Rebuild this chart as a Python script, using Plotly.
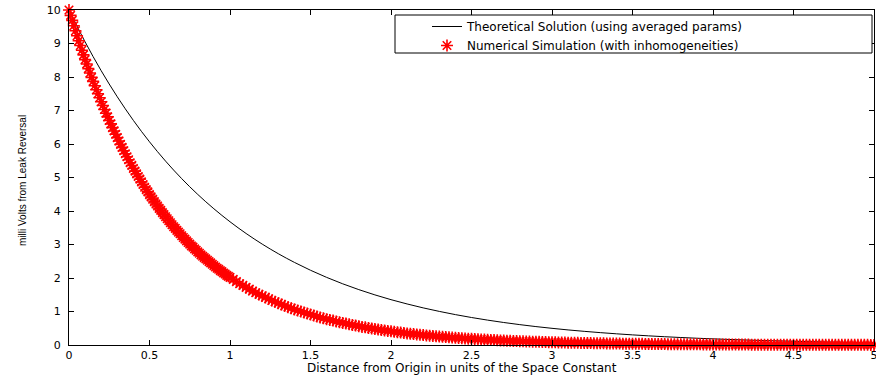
import plotly.graph_objects as go

# ---- data ----
theory_x = [round(0.1 * k, 1) for k in range(51)]
theory_y = [10.00, 9.048, 8.187, 7.408, 6.703, 6.065, 5.488, 4.966, 4.493, 4.066,
            3.679, 3.329, 3.012, 2.725, 2.466, 2.231, 2.019, 1.827, 1.653, 1.496,
            1.353, 1.225, 1.108, 1.003, 0.907, 0.821, 0.743, 0.672, 0.608, 0.550,
            0.498, 0.450, 0.408, 0.369, 0.334, 0.302, 0.273, 0.247, 0.224, 0.202,
            0.183, 0.166, 0.150, 0.136, 0.123, 0.111, 0.101, 0.091, 0.082, 0.074,
            0.067]

sim_x = ([round(0.01 * k, 2) for k in range(101)]
         + [round(1.0 + 0.02 * k, 2) for k in range(1, 201)])
sim_y = [10.00, 9.84, 9.69, 9.53, 9.38, 9.23, 9.08, 8.94, 8.80, 8.66,
         8.52, 8.39, 8.25, 8.12, 7.99, 7.87, 7.74, 7.62, 7.50, 7.38,
         7.26, 7.15, 7.03, 6.92, 6.81, 6.70, 6.60, 6.49, 6.39, 6.29,
         6.19, 6.09, 5.99, 5.90, 5.80, 5.71, 5.62, 5.53, 5.44, 5.36,
         5.27, 5.19, 5.11, 5.03, 4.95, 4.87, 4.79, 4.71, 4.64, 4.57,
         4.49, 4.42, 4.35, 4.28, 4.21, 4.15, 4.08, 4.02, 3.95, 3.89,
         3.83, 3.77, 3.71, 3.65, 3.59, 3.53, 3.48, 3.42, 3.37, 3.32,
         3.26, 3.21, 3.16, 3.11, 3.06, 3.01, 2.96, 2.92, 2.87, 2.83,
         2.78, 2.74, 2.69, 2.65, 2.61, 2.57, 2.53, 2.49, 2.45, 2.41,
         2.37, 2.33, 2.29, 2.26, 2.22, 2.19, 2.15, 2.12, 2.08, 2.05,
         2.02,
         1.96, 1.89, 1.83, 1.78, 1.72, 1.67, 1.61, 1.56, 1.51, 1.47,
         1.42, 1.38, 1.33, 1.29, 1.25, 1.21, 1.17, 1.13, 1.10, 1.06,
         1.03, 1.00, 0.97, 0.94, 0.91, 0.88, 0.85, 0.82, 0.80, 0.77,
         0.75, 0.73, 0.70, 0.68, 0.66, 0.64, 0.62, 0.60, 0.58, 0.56,
         0.54, 0.53, 0.51, 0.49, 0.48, 0.46, 0.45, 0.43, 0.42, 0.41,
         0.395, 0.382, 0.370, 0.359, 0.347, 0.336, 0.326, 0.316, 0.306, 0.296,
         0.287, 0.278, 0.269, 0.260, 0.252, 0.244, 0.237, 0.229, 0.222, 0.215,
         0.208, 0.202, 0.195, 0.189, 0.183, 0.177, 0.172, 0.166, 0.161, 0.156,
         0.151, 0.146, 0.142, 0.137, 0.133, 0.129, 0.125, 0.121, 0.117, 0.113,
         0.110, 0.106, 0.103, 0.100, 0.097, 0.094, 0.091, 0.088, 0.085, 0.082,
         0.080, 0.077, 0.075, 0.072, 0.070, 0.068, 0.066, 0.064, 0.062, 0.060,
         0.058, 0.056, 0.054, 0.053, 0.051, 0.049, 0.048, 0.046, 0.045, 0.043,
         0.042, 0.041, 0.039, 0.038, 0.037, 0.036, 0.035, 0.034, 0.033, 0.032,
         0.031, 0.030, 0.029, 0.028, 0.027, 0.026, 0.025, 0.024, 0.024, 0.023,
         0.022, 0.021, 0.021, 0.020, 0.020, 0.019, 0.018, 0.018, 0.017, 0.017,
         0.016, 0.016, 0.015, 0.015, 0.014, 0.014, 0.013, 0.013, 0.012, 0.012,
         0.012, 0.011, 0.011, 0.011, 0.010, 0.010, 0.010, 0.009, 0.009, 0.009,
         0.008, 0.008, 0.008, 0.008, 0.007, 0.007, 0.007, 0.007, 0.007, 0.006,
         0.006, 0.006, 0.006, 0.006, 0.005, 0.005, 0.005, 0.005, 0.005, 0.005,
         0.004, 0.004, 0.004, 0.004, 0.004, 0.004, 0.004, 0.004, 0.003, 0.003]

x_ticks = [0, 0.5, 1, 1.5, 2, 2.5, 3, 3.5, 4, 4.5, 5]
x_tick_labels = ["0", "0.5", "1", "1.5", "2", "2.5", "3", "3.5", "4", "4.5", "5"]
y_ticks = list(range(0, 11))
y_tick_labels = [str(v) for v in y_ticks]

names = ["Theoretical Solution (using averaged params)",
         "Numerical Simulation (with inhomogeneities)"]
x_title = "Distance from Origin in units of the Space Constant"
y_title = "milli Volts from Leak Reversal"

# ---- figure ----
fig = go.Figure()
fig.add_trace(go.Scatter(
    x=theory_x, y=theory_y, mode="lines", name=names[0],
    line=dict(color="black", width=1, shape="spline"), cliponaxis=False))
fig.add_trace(go.Scatter(
    x=sim_x, y=sim_y, mode="markers", name=names[1],
    marker=dict(symbol="asterisk-open", size=10, color="red",
                line=dict(color="red", width=1.6)),
    cliponaxis=False))

L, R, T, B = 69, 2, 10, 31
W, H = 876, 376
pw = W - L - R
ph = H - T - B

def px_x(p):
    return (p - L) / pw

def px_y(p):
    return (H - B - p) / ph

tickfont = dict(family="DejaVu Sans", size=11, color="black")
axis_common = dict(showgrid=False, zeroline=False, showline=True, linecolor="black",
                   linewidth=1, mirror="ticks", ticks="inside", ticklen=5,
                   tickcolor="black", tickwidth=1, tickfont=tickfont, automargin=False,
                   ticklabeloverflow="allow")

fig.update_layout(
    width=W, height=H,
    margin=dict(l=L, r=R, t=T, b=B, pad=0, autoexpand=False),
    paper_bgcolor="white", plot_bgcolor="white",
    font=dict(family="DejaVu Sans", color="black"),
    showlegend=True,
    xaxis=dict(range=[0, 5], tickvals=x_ticks, ticktext=x_tick_labels,
               ticklabelstandoff=0, **axis_common),
    yaxis=dict(range=[0, 10], tickvals=y_ticks, ticktext=y_tick_labels,
               ticklabelstandoff=5, **axis_common),
    legend=dict(x=px_x(427), y=px_y(12), xanchor="left", yanchor="top",
                bgcolor="rgba(0,0,0,0)", borderwidth=0,
                font=dict(family="DejaVu Sans", size=12), tracegroupgap=0),
    shapes=[dict(type="rect", xref="paper", yref="paper",
                 x0=px_x(395), x1=px_x(872), y0=px_y(53), y1=px_y(15),
                 line=dict(color="black", width=1), fillcolor="white", layer="above")],
    annotations=[
        dict(text=x_title, xref="paper", yref="paper", x=px_x(462), y=px_y(368),
             xanchor="center", yanchor="middle", showarrow=False,
             font=dict(family="DejaVu Sans", size=12, color="black")),
        dict(text=y_title, xref="paper", yref="paper", x=px_x(22), y=px_y(181),
             xanchor="center", yanchor="middle", showarrow=False, textangle=-90,
             font=dict(family="Liberation Sans Narrow, Liberation Sans", size=10, color="black")),
    ],
)

fig.write_html("out.html", config={"displayModeBar": False},
               post_script="document.body.style.margin='0';")
